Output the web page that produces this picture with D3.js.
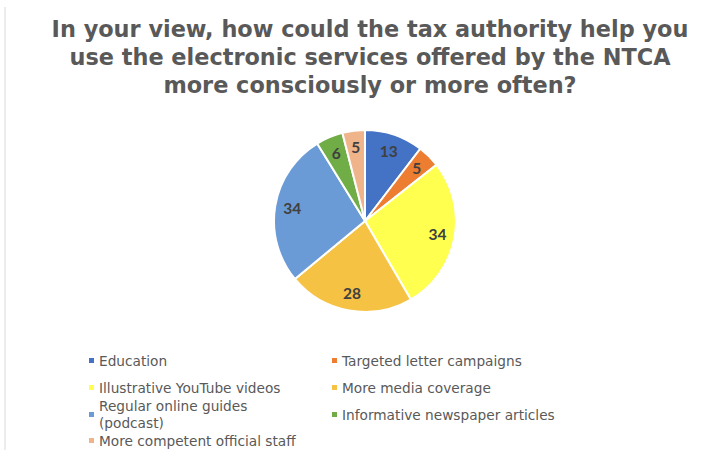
<!DOCTYPE html>
<html>
<head>
<meta charset="utf-8">
<script src="https://cdn.jsdelivr.net/npm/d3@7"></script>
<style>
  body { margin: 0; background: #fff; }
  svg { display: block; }
</style>
</head>
<body>
<div id="chart"></div>
<script>
// donnees
var categories = ["Education", "Targeted letter campaigns", "Illustrative YouTube videos", "More media coverage",
  "Regular online guides (podcast)", "Informative newspaper articles", "More competent official staff"];
var values = [13, 5, 34, 28, 34, 6, 5];
var colors = ["#4472C4", "#ED7D31", "#FFFF4F", "#F5C243", "#6A9BD6", "#70AD47", "#EFB48A"];
var titleLines = ["In your view, how could the tax authority help you",
  "use the electronic services offered by the NTCA",
  "more consciously or more often?"];

var width = 715, height = 455;
var cx = 365, cy = 221, radius = 91;

var svg = d3.select("#chart").append("svg")
  .attr("width", width)
  .attr("height", height);

// bordure gauche
svg.append("line")
  .attr("x1", 5).attr("x2", 5)
  .attr("y1", 7).attr("y2", 450)
  .attr("stroke", "#d9d9d9")
  .attr("stroke-width", 1);

svg.append("g")
  .selectAll("text")
  .data(titleLines)
  .enter().append("text")
  .attr("x", 370)
  .attr("y", function(d, i) { return 37 + i * 28; })
  .attr("text-anchor", "middle")
  .attr("font-family", "DejaVu Sans")
  .attr("font-weight", "bold")
  .attr("font-size", "22.4px")
  .attr("fill", "#595959")
  .text(function(d) { return d; });

var pie = d3.pie().sort(null).value(function(d) { return d; });
var arcs = pie(values);
var arc = d3.arc().innerRadius(0).outerRadius(radius);
var labelArc = d3.arc().innerRadius(radius * 0.81).outerRadius(radius * 0.81);

var g = svg.append("g").attr("transform", "translate(" + cx + "," + cy + ")");

g.selectAll("path")
  .data(arcs)
  .enter().append("path")
  .attr("d", arc)
  .attr("fill", function(d, i) { return colors[i]; })
  .attr("stroke", "#fff")
  .attr("stroke-width", 2);

g.selectAll("text")
  .data(arcs)
  .enter().append("text")
  .attr("transform", function(d) { return "translate(" + labelArc.centroid(d) + ")"; })
  .attr("text-anchor", "middle")
  .attr("dy", "0.35em")
  .attr("font-family", "Lato")
  .attr("font-weight", "bold")
  .attr("font-size", "15.5px")
  .attr("fill", "#404040")
  .text(function(d) { return d.data; });

// legende en deux colonnes
var legendPos = [[89, 361], [332, 361], [89, 388], [332, 388], [89, 415], [332, 415], [89, 441]];
var legend = svg.append("g")
  .selectAll("g")
  .data(categories)
  .enter().append("g")
  .attr("transform", function(d, i) { return "translate(" + legendPos[i][0] + "," + legendPos[i][1] + ")"; });

legend.append("rect")
  .attr("x", 0).attr("y", -3)
  .attr("width", 5).attr("height", 5)
  .attr("fill", function(d, i) { return colors[i]; });

// le libelle long est coupe en deux lignes
legend.each(function(d, i) {
  var lines = (i == 4) ? ["Regular online guides", "(podcast)"] : [d];
  var y0 = -(lines.length - 1) * 8.5;
  d3.select(this).selectAll("text")
    .data(lines)
    .enter().append("text")
    .attr("x", 10)
    .attr("y", function(l, k) { return y0 + k * 17; })
    .attr("dy", "0.35em")
    .attr("font-family", "DejaVu Sans")
    .attr("font-size", "13.7px")
    .attr("fill", "#595959")
    .text(function(l) { return l; });
});
</script>
</body>
</html>
